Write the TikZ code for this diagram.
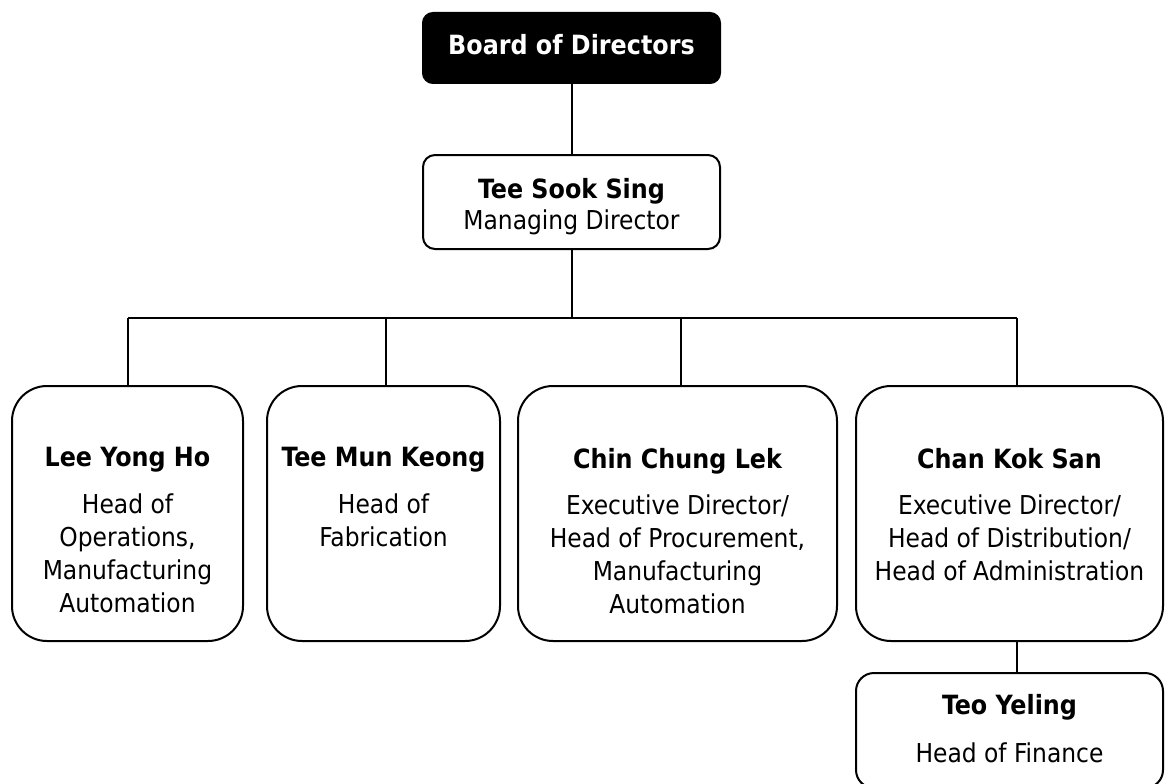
\documentclass[tikz,border=0pt]{standalone}
\usepackage{fontspec}
\setmainfont{DejaVu Sans Condensed}
\begin{document}
\begin{tikzpicture}[x=1pt,y=-1pt,
  every node/.style={inner sep=0pt, outer sep=0pt},
  conn/.style={line width=2pt},
  orgbox/.style={draw, line width=2pt, anchor=north west, rounded corners=#1},
  person/.style={anchor=base, font=\fontsize{26.5}{33}\selectfont\bfseries},
  role/.style={anchor=north, align=center, font=\fontsize{26}{33}\selectfont}
]
\clip (0,0) rectangle (1165,784);
\fill[white] (0,0) rectangle (1165,784);

% boxes
\node[orgbox=10pt, fill=black, minimum width=297pt, minimum height=70pt] (board) at (423,13) {};
\node[orgbox=12pt, fill=white, minimum width=297pt, minimum height=94pt] (tss) at (423,155) {};
\node[orgbox=35pt, minimum width=231pt, minimum height=255pt] (lee) at (12,386) {};
\node[orgbox=35pt, minimum width=233pt, minimum height=255pt] (tmk) at (267,386) {};
\node[orgbox=35pt, minimum width=319pt, minimum height=255pt] (ccl) at (518,386) {};
\node[orgbox=35pt, minimum width=307pt, minimum height=255pt] (cks) at (856,386) {};
\node[orgbox=18pt, minimum width=307pt, minimum height=115pt] (teo) at (856,673) {};

% texts
\node[person, text=white] (board-t) at (571.5,54.5) {Board of Directors};
\node[person] (tss-n) at (571.5,198) {Tee Sook Sing};
\node[anchor=base, font=\fontsize{26}{33}\selectfont] (tss-r) at (571.5,229) {Managing Director};

\node[person] (lee-n) at (127.5,466) {Lee Yong Ho};
\node[role] (lee-r) at (127.5,494) {Head of\\Operations,\\Manufacturing\\Automation};

\node[person] (tmk-n) at (383.5,466) {Tee Mun Keong};
\node[role] (tmk-r) at (383.5,494) {Head of\\Fabrication};

\node[person] (ccl-n) at (677.5,468) {Chin Chung Lek};
\node[role] (ccl-r) at (677.5,495) {Executive Director/\\Head of Procurement,\\Manufacturing\\Automation};

\node[person] (cks-n) at (1009.5,468) {Chan Kok San};
\node[role] (cks-r) at (1009.5,495) {Executive Director/\\Head of Distribution/\\Head of Administration};

\node[person] (teo-n) at (1009.5,714) {Teo Yeling};
\node[role] (teo-r) at (1009.5,743) {Head of Finance};

% connectors
\coordinate (bus) at (571.5,318);
\coordinate (d1) at (128,318);
\coordinate (d2) at (386,318);
\coordinate (d3) at (681,318);
\coordinate (d4) at (1017,318);
\coordinate (d5) at (1017,641);

\draw[conn] (board.south) -- (tss.north);
\draw[conn] (tss.south) -- (tss.south |- bus);
\draw[conn] (d1) -- (d4);
\draw[conn] (d1) -- (d1 |- lee.north);
\draw[conn] (d2) -- (d2 |- tmk.north);
\draw[conn] (d3) -- (d3 |- ccl.north);
\draw[conn] (d4) -- (d4 |- cks.north);
\draw[conn] (d5) -- (d5 |- teo.north);
\end{tikzpicture}
\end{document}
